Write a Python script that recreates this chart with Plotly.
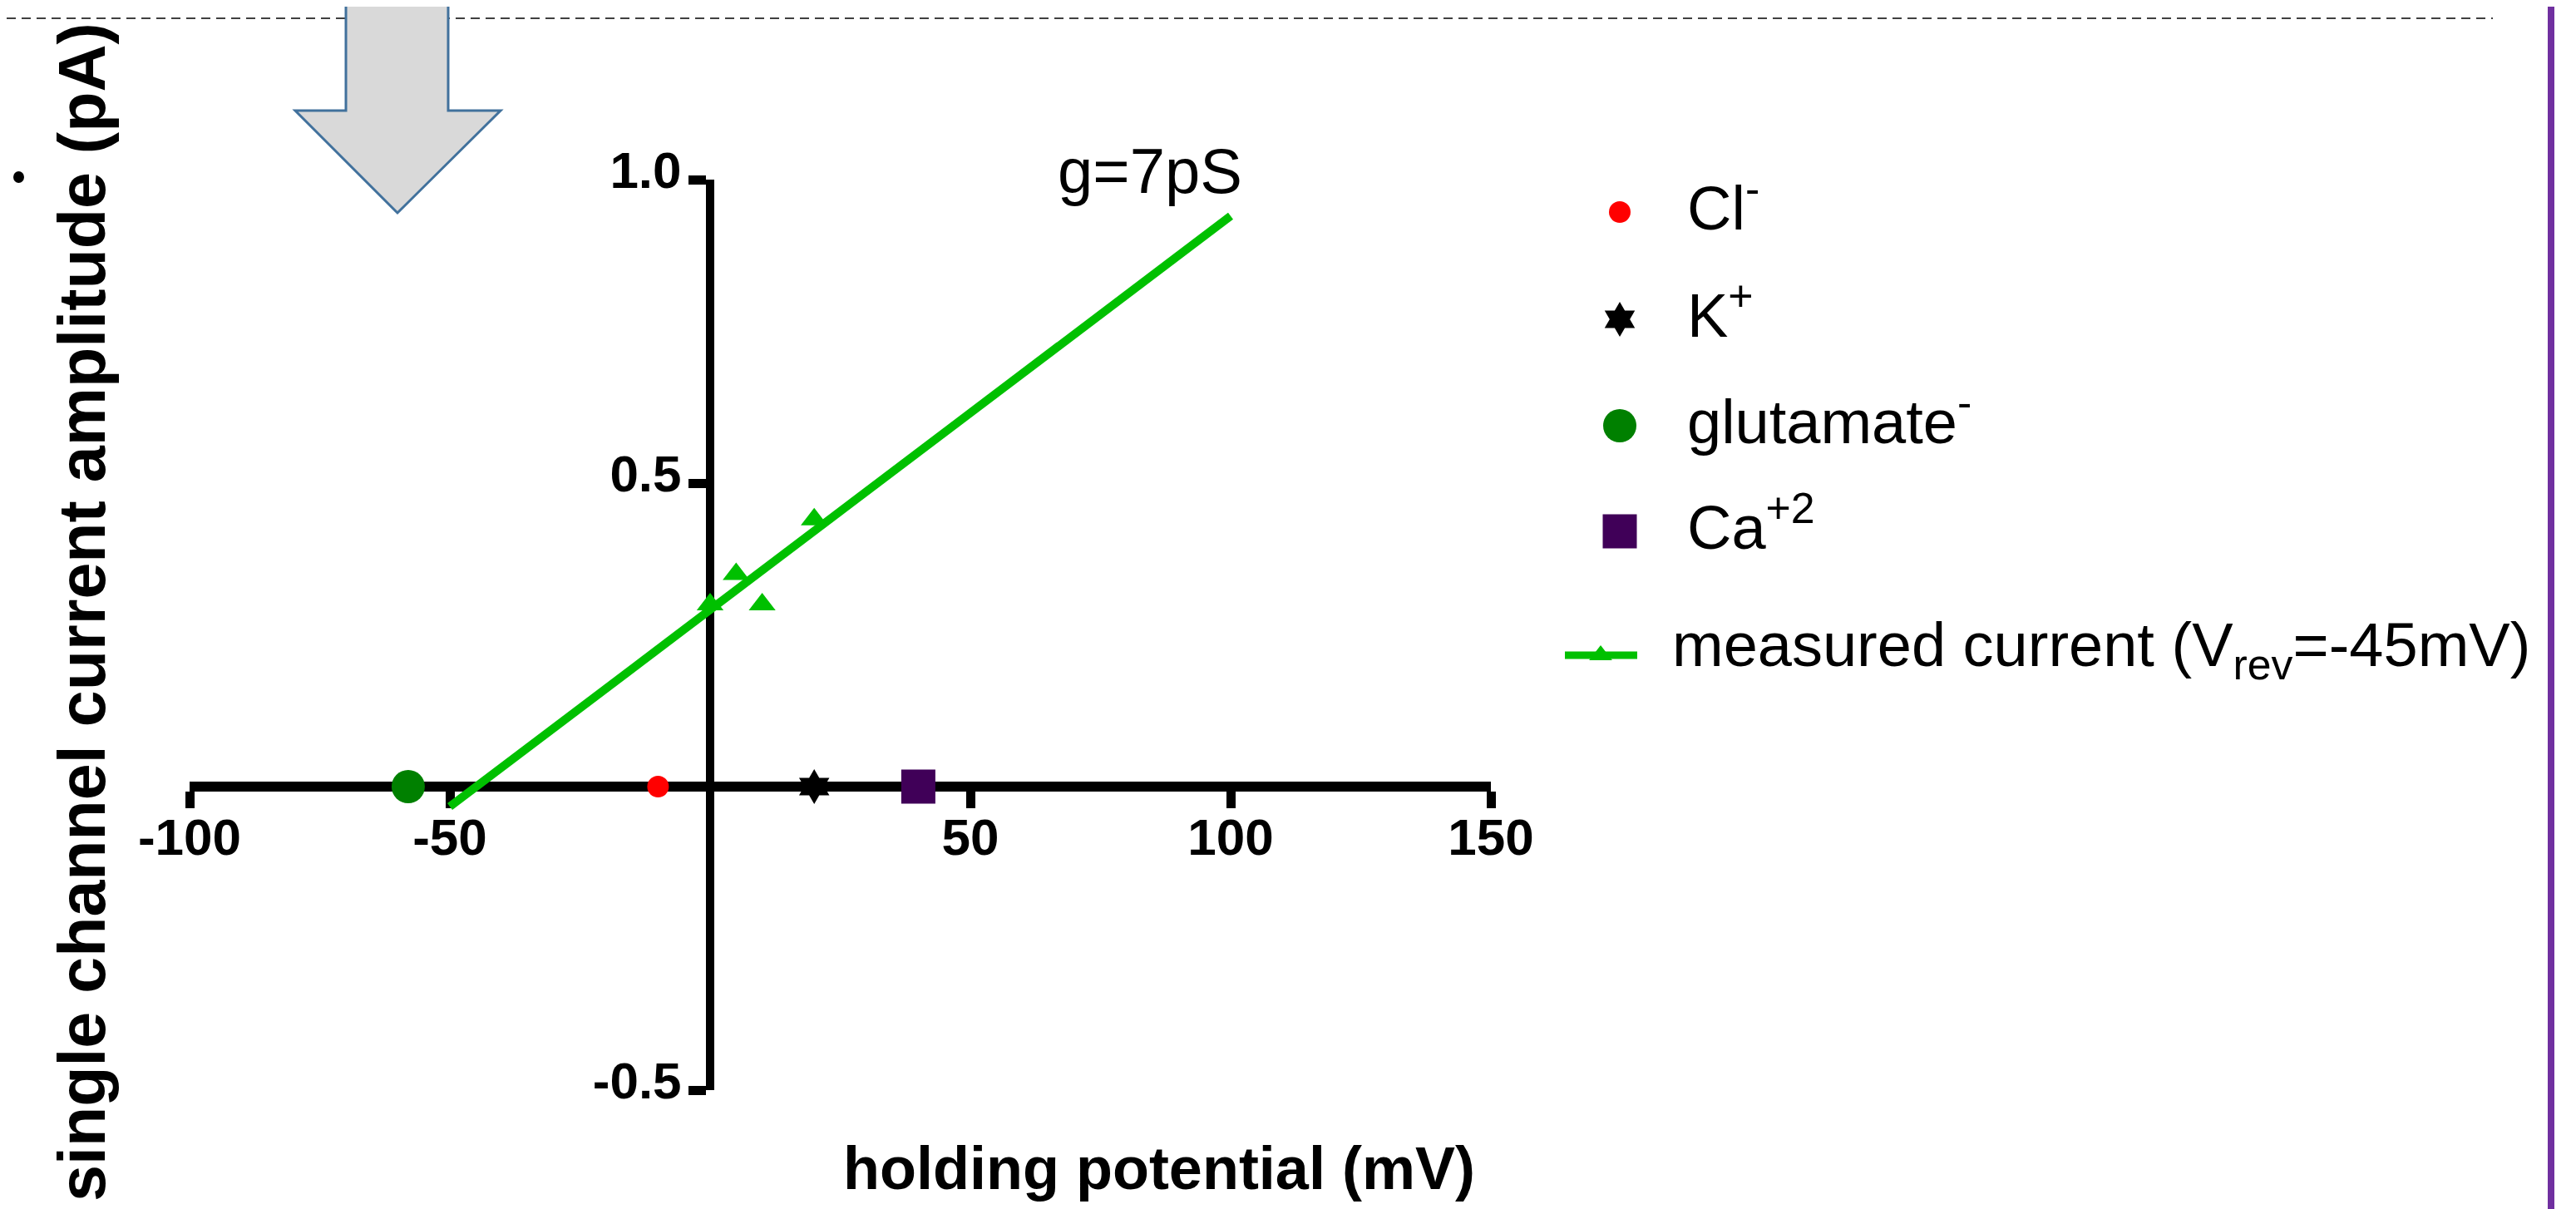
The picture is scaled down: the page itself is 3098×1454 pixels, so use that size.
import plotly.graph_objects as go

W, H = 3098, 1454

# ---------------- data ----------------
ion_names = ["Cl<sup>-</sup>", "K<sup>+</sup>", "glutamate<sup>-</sup>", "Ca<sup>+2</sup>"]
ion_vrev = [-10, 20, -58, 40]          # reversal potentials (mV)
ion_current = [0, 0, 0, 0]             # pA
ion_colors = ["#ff0000", "#000000", "#008000", "#400058"]
ion_symbols = ["circle", "hexagram", "circle", "square"]
ion_sizes = [26, 32, 40, 41]

meas_name = "measured current (V<sub>rev</sub>=-45mV)"
meas_v = [0, 5, 10, 20]                # holding potential (mV)
meas_i = [0.30, 0.35, 0.30, 0.44]      # pA
fit_v = [-50, 100]
fit_i = [-0.033, 0.94]
fit_label = "g=7pS"
meas_color = "#00c000"

x_range = [-100, 150]
y_range = [-0.5, 1.0]
x_tickvals = [-100, -50, 50, 100, 150]
x_ticktext = ["-100", "-50", "50", "100", "150"]
y_tickvals = [-0.5, 0.5, 1.0]
y_ticktext = ["-0.5", "0.5", "1.0"]
x_title = "holding potential (mV)"
y_title = "single channel current amplitude (pA)"

FONT = "Arial, Liberation Sans, sans-serif"


def px(x):
    return x / W


def py(y):
    return 1 - y / H


# plot area (pixel positions of axis ends)
xdom = [px(220), px(1785)]
ydom = [py(1303), py(208)]
yaxis_pos = xdom[0] + (0 - x_range[0]) / (x_range[1] - x_range[0]) * (xdom[1] - xdom[0])
xaxis_pos = ydom[0] + (0 - y_range[0]) / (y_range[1] - y_range[0]) * (ydom[1] - ydom[0])

fig = go.Figure()

# measured fit line
fig.add_trace(go.Scatter(x=fit_v, y=fit_i, mode="lines",
                         line=dict(color=meas_color, width=10),
                         showlegend=False, hoverinfo="skip"))
# measured points
fig.add_trace(go.Scatter(x=meas_v, y=meas_i, mode="markers", name=meas_name,
                         marker=dict(symbol="triangle-up", size=28, color=meas_color, line=dict(width=0)),
                         showlegend=False))
# ion reversal potentials
for n, v, c, col, s, sz in zip(ion_names, ion_vrev, ion_current, ion_colors, ion_symbols, ion_sizes):
    fig.add_trace(go.Scatter(x=[v], y=[c], mode="markers", name=n,
                             marker=dict(symbol=s, size=sz, color=col, line=dict(width=0)),
                             showlegend=False))

# ---------------- custom legend (pixel overlay axis) ----------------
leg_marker_x = 1940
leg_rows = [247, 376, 504, 631]
leg_text_x = 2019
for n, col, s, sz, ry in zip(ion_names, ion_colors, ion_symbols, ion_sizes, leg_rows):
    fig.add_trace(go.Scatter(x=[leg_marker_x], y=[ry], mode="markers", xaxis="x2", yaxis="y2",
                             marker=dict(symbol=s, size=sz, color=col, line=dict(width=0)),
                             showlegend=False, hoverinfo="skip"))
meas_row = 780
fig.add_trace(go.Scatter(x=[1874, 1961], y=[meas_row, meas_row], mode="lines", xaxis="x2", yaxis="y2",
                         line=dict(color=meas_color, width=9), showlegend=False, hoverinfo="skip"))
fig.add_trace(go.Scatter(x=[1917], y=[meas_row], mode="markers", xaxis="x2", yaxis="y2",
                         marker=dict(symbol="triangle-up", size=24, color=meas_color, line=dict(width=0)),
                         showlegend=False, hoverinfo="skip"))

annotations = []
LEG_FS = 74
for n, ry in zip(ion_names, leg_rows):
    annotations.append(dict(x=leg_text_x, y=ry - 10, xref="x2", yref="y2", text=n, showarrow=False,
                            xanchor="left", yanchor="middle",
                            font=dict(family=FONT, size=LEG_FS, color="black")))
annotations.append(dict(x=2001, y=meas_row - 7, xref="x2", yref="y2", text=meas_name, showarrow=False,
                        xanchor="left", yanchor="middle",
                        font=dict(family=FONT, size=LEG_FS, color="black")))
# fit label
annotations.append(dict(x=1488, y=197, xref="x2", yref="y2", text=fit_label, showarrow=False,
                        xanchor="right", yanchor="middle",
                        font=dict(family=FONT, size=76, color="black")))
# axis titles
annotations.append(dict(x=1386, y=1397, xref="x2", yref="y2", text=x_title, showarrow=False,
                        xanchor="center", yanchor="middle",
                        font=dict(family=FONT, size=72, color="black", weight="bold")))
annotations.append(dict(x=90, y=728, xref="x2", yref="y2", text=y_title, showarrow=False,
                        textangle=-90, xanchor="center", yanchor="middle",
                        font=dict(family=FONT, size=79, color="black", weight="bold")))

# ---------------- decorations ----------------
shapes = [
    # dashed separator at top
    dict(type="line", xref="paper", yref="paper", x0=px(0), x1=px(2990), y0=py(14), y1=py(14),
         line=dict(color="#404040", width=2, dash="11px,7px"), layer="above"),
    # purple vertical rule
    dict(type="line", xref="paper", yref="paper", x0=px(3060), x1=px(3060), y0=0, y1=1,
         line=dict(color="#7030a0", width=8), layer="above"),
    # small bullet dot
    dict(type="circle", xref="paper", yref="paper", x0=px(8), x1=px(21), y0=py(212), y1=py(198),
         fillcolor="black", line=dict(width=0), layer="above"),
]
arrow_pts = [(408, -10), (531, -10), (531, 125), (594, 125), (470, 248), (347, 125), (408, 125)]
path = "M " + " L ".join(f"{px(x):.5f},{py(y):.5f}" for x, y in arrow_pts) + " Z"
shapes.append(dict(type="path", xref="paper", yref="paper", path=path,
                   fillcolor="#d9d9d9", line=dict(color="#41719c", width=3), layer="above"))

tickfont = dict(family=FONT, size=62, color="black", weight="bold")

fig.update_layout(
    template="none",
    width=W, height=H,
    margin=dict(l=0, r=0, t=0, b=0, pad=0, autoexpand=False),
    paper_bgcolor="white", plot_bgcolor="rgba(0,0,0,0)",
    font=dict(family=FONT, color="black"),
    showlegend=False,
    xaxis=dict(domain=xdom, range=x_range, anchor="free", position=xaxis_pos, automargin=False,
               showline=True, linecolor="black", linewidth=12,
               ticks="outside", ticklen=20, tickwidth=11, tickcolor="black",
               tickvals=x_tickvals, ticktext=x_ticktext, tickfont=tickfont, ticklabelstandoff=-18,
               showgrid=False, zeroline=False, layer="below traces", fixedrange=True),
    yaxis=dict(domain=ydom, range=y_range, anchor="free", position=yaxis_pos, automargin=False,
               showline=True, linecolor="black", linewidth=10,
               ticks="outside", ticklen=21, tickwidth=11, tickcolor="black",
               tickvals=y_tickvals, ticktext=y_ticktext, tickfont=tickfont,
               ticklabelstandoff=-4, ticklabelshift=-12,
               showgrid=False, zeroline=False, layer="below traces", fixedrange=True),
    xaxis2=dict(domain=[0, 1], range=[0, W], anchor="y2", visible=False, fixedrange=True, automargin=False),
    yaxis2=dict(domain=[0, 1], range=[H, 0], anchor="x2", visible=False, fixedrange=True, automargin=False),
    annotations=annotations,
    shapes=shapes,
)

fig.write_html("out.html", config={"displayModeBar": False})
